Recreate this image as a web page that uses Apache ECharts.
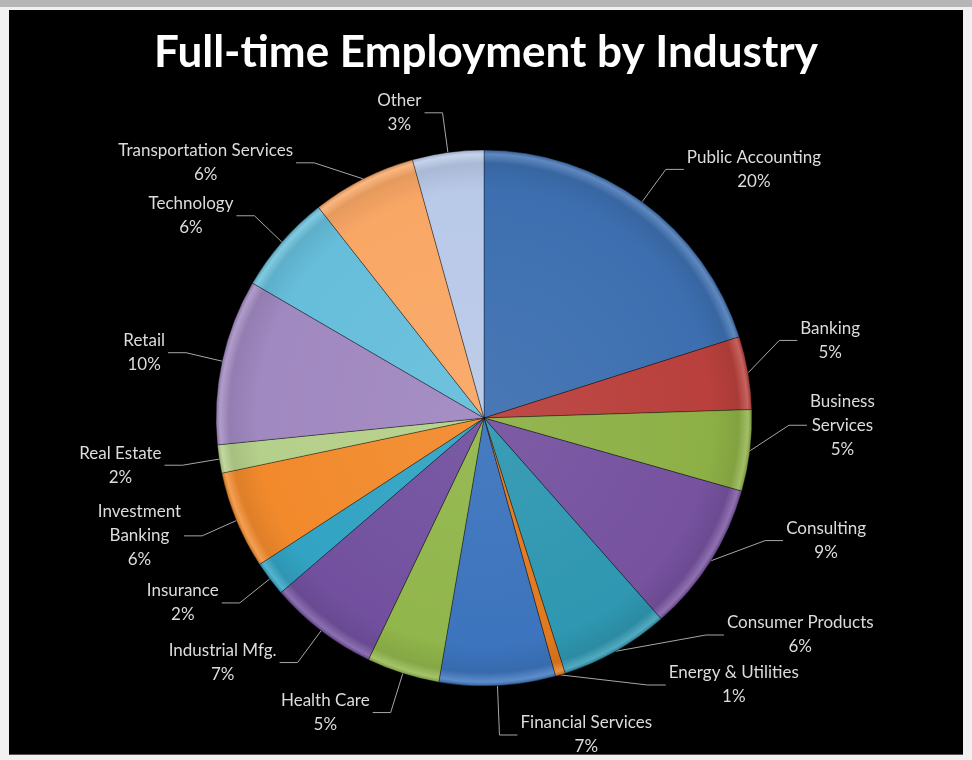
<!DOCTYPE html>
<html>
<head>
<meta charset="utf-8">
<script src="https://cdn.jsdelivr.net/npm/echarts@6/dist/echarts.min.js"></script>
<style>
  html, body { margin: 0; padding: 0; background: #f1f1f1; }
  #chart { width: 972px; height: 760px; }
</style>
</head>
<body>
<div id="chart"></div>
<script>
// Categories, clockwise from 12 o'clock
var categories = ['Public Accounting', 'Banking', 'Business Services', 'Consulting',
  'Consumer Products', 'Energy & Utilities', 'Financial Services', 'Health Care',
  'Industrial Mfg.', 'Insurance', 'Investment Banking', 'Real Estate', 'Retail',
  'Technology', 'Transportation Services', 'Other'];
// Slice shares (percent)
var shares = [20.1, 4.4, 4.9, 9.1, 6.6, 0.6, 7.0, 4.4, 6.6, 2.1, 5.9, 1.7, 10.0, 6.0, 6.3, 4.3];
// Percent labels as printed on the chart
var pctLabels = ['20%', '5%', '5%', '9%', '6%', '1%', '7%', '5%', '7%', '2%', '6%', '2%', '10%', '6%', '6%', '3%'];
// Label text lines (wrapped as in the chart)
var labelNames = ['Public Accounting', 'Banking', 'Business\nServices', 'Consulting',
  'Consumer Products', 'Energy & Utilities', 'Financial Services', 'Health Care',
  'Industrial Mfg.', 'Insurance', 'Investment\nBanking', 'Real Estate', 'Retail',
  'Technology', 'Transportation Services', 'Other'];
var colors = ['#3d6fb0', '#b9403c', '#8db046', '#76529f', '#2f97b1', '#e2791f', '#3c74bd',
  '#91b64b', '#72509f', '#32a3c3', '#f28a2c', '#b5d08a', '#a088c0', '#66bedb', '#f9a765', '#b9c9e8'];

var CX = 484, CY = 418, R = 268;

function shade(hex, f) {
  var n = parseInt(hex.slice(1), 16);
  var r = (n >> 16) & 255, g = (n >> 8) & 255, b = n & 255;
  function m(c) { return Math.max(0, Math.min(255, Math.round(f >= 0 ? c + (255 - c) * f : c * (1 + f)))); }
  return 'rgb(' + m(r) + ',' + m(g) + ',' + m(b) + ')';
}

var data = categories.map(function (c, i) {
  var col = colors[i];
  return {
    name: c,
    value: shares[i],
    itemStyle: {
      color: {
        type: 'radial', x: CX, y: CY, r: R, global: true,
        colorStops: [
          { offset: 0, color: shade(col, 0.06) },
          { offset: 0.85, color: col },
          { offset: 0.95, color: shade(col, -0.08) },
          { offset: 0.985, color: shade(col, 0.18) },
          { offset: 1, color: shade(col, -0.15) }
        ]
      }
    }
  };
});

var chart = echarts.init(document.getElementById('chart'));
chart.setOption({
  backgroundColor: '#f1f1f1',
  animation: false,
  graphic: [
    { type: 'rect', shape: { x: 0, y: 0, width: 972, height: 7 }, style: { fill: '#b6b6b6' }, z: -10 },
    { type: 'rect', shape: { x: 9, y: 10, width: 954, height: 745 }, style: { fill: '#000000' }, z: -10 },
    { type: 'rect', shape: { x: 9, y: 754, width: 954, height: 1 }, style: { fill: '#555555' }, z: -9 }
  ],
  title: {
    text: 'Full-time Employment by Industry',
    left: 'center',
    top: 26,
    textStyle: { color: '#ffffff', fontFamily: 'Lato', fontWeight: 'bold', fontSize: 44 }
  },
  series: [{
    type: 'pie',
    center: [CX, CY],
    radius: R,
    startAngle: 90,
    clockwise: true,
    avoidLabelOverlap: true,
    data: data,
    itemStyle: { borderColor: 'rgba(0,0,0,0.35)', borderWidth: 1 },
    label: {
      show: true,
      position: 'outside',
      color: '#dcdcdc',
      fontFamily: 'Lato',
      fontSize: 17,
      lineHeight: 24,
      formatter: function (p) {
        var lines = labelNames[p.dataIndex].split('\n');
        lines.push(pctLabels[p.dataIndex]);
        return lines.map(function (l) { return '{c|' + l + '}'; }).join('\n');
      },
      rich: {
        c: { align: 'center', color: '#dcdcdc', fontFamily: 'Lato', fontSize: 17, lineHeight: 24 }
      },
      distanceToLabelLine: 3
    },
    labelLine: {
      show: true,
      length: 40,
      length2: 18,
      lineStyle: { color: '#a6a6a6', width: 1 }
    }
  }]
});
</script>
</body>
</html>
